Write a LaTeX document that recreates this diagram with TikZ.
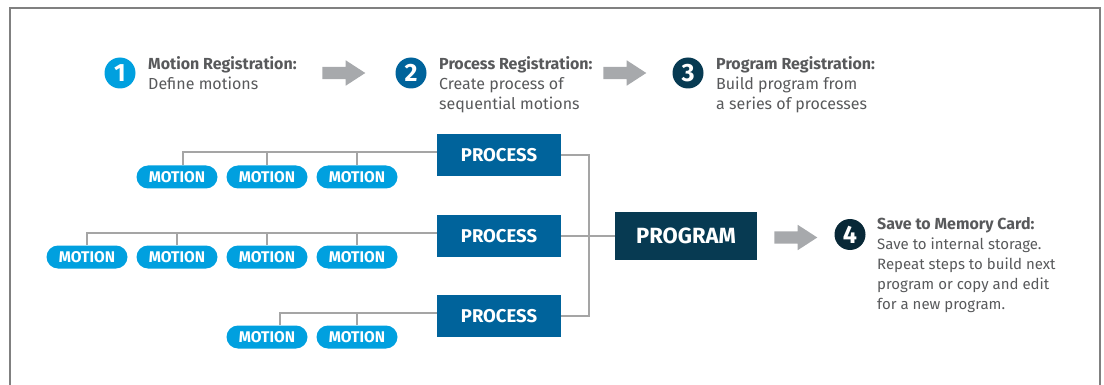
\documentclass[tikz,border=0pt]{standalone}
\usepackage{fontspec}
\setmainfont{Fira Sans}
\usepackage{tikz}
\usetikzlibrary{positioning}
\usetikzlibrary{shapes.arrows}
\definecolor{lightblue}{RGB}{0,160,223}
\definecolor{procblue}{RGB}{0,99,155}
\definecolor{progblue}{RGB}{7,58,82}
\definecolor{darkteal}{RGB}{8,40,55}
\definecolor{textgray}{RGB}{88,89,91}
\definecolor{arrowgray}{RGB}{167,169,172}
\definecolor{linegray}{RGB}{165,165,165}
\definecolor{framegray}{RGB}{128,128,128}
\tikzstyle{number}=[circle,draw=none,text=white,minimum size=31pt,inner sep=0pt,font=\fontsize{25}{25}\selectfont\bfseries]
\tikzstyle{steptext}=[anchor=north west,inner sep=0pt,align=left,text=textgray,font=\fontsize{16}{20}\selectfont]
\tikzstyle{smallsteptext}=[steptext,font=\fontsize{15}{20}\selectfont]
\tikzstyle{motion}=[rectangle,rounded corners=11.5pt,fill=lightblue,text=white,minimum width=81pt,minimum height=23pt,inner sep=0pt,font=\fontsize{15.5}{15.5}\selectfont\bfseries]
\tikzstyle{process}=[rectangle,fill=procblue,text=white,minimum width=124pt,minimum height=42pt,inner sep=0pt,font=\fontsize{18.5}{18.5}\selectfont\bfseries]
\tikzstyle{program}=[rectangle,fill=progblue,text=white,minimum width=142pt,minimum height=48pt,inner sep=0pt,font=\fontsize{22}{22}\selectfont\bfseries]
\tikzstyle{grayarrow}=[single arrow,fill=arrowgray,draw=none,minimum height=43pt,inner xsep=0pt,inner ysep=6pt,single arrow head extend=6.5pt,single arrow tip angle=66]
\tikzstyle{link}=[draw=linegray,line width=1.3pt]
\tikzstyle{frame}=[draw=framegray,line width=1.5pt]
\newcommand{\stephead}[1]{{\fontsize{16}{20}\selectfont\bfseries #1}}

\begin{document}
\begin{tikzpicture}[x=1pt,y=-1pt]

  \useasboundingbox (0,0) rectangle (1104,385);
  \draw[frame] (10,385) -- (10,8) -- (1100,8) -- (1100,385);

  % numbered steps
  \foreach \pos/\name/\col/\num in {{(120,73)/n1/lightblue/1}, {(411,73)/n2/procblue/2}, {(688,73)/n3/progblue/3}, {(850,234.5)/n4/darkteal/4}}
      \node[number,fill=\col] (\name) at \pos {\num};

  \node[steptext] (t1) at (148,56) {\stephead{Motion Registration:}\\Define motions};
  \node[steptext] (t2) at (439,56) {\stephead{Process Registration:}\\Create process of\\sequential motions};
  \node[steptext] (t3) at (716,56) {\stephead{Program Registration:}\\Build program from\\a series of processes};
  \node[smallsteptext] (t4) at (877,217) {\stephead{Save to Memory Card:}\\Save to internal storage.\\Repeat steps to build next\\program or copy and edit\\for a new program.};

  \node[grayarrow] (a1) at (339,73) {};
  \node[grayarrow] (a2) at (620,73) {};
  \node[grayarrow] (a3) at (791,237.5) {};

  % processes and program
  \foreach \pos/\name in {{(499,155)/p1}, {(499,236)/p2}, {(499,316)/p3}}
      \node[process] (\name) at \pos {PROCESS};
  \node[program] (prog) at (686,236) {PROGRAM};

  \foreach \pos/\name in {{(177,177)/m11}, {(267,177)/m12}, {(357,177)/m13},
                          {(87,257)/m21}, {(177,257)/m22}, {(267,257)/m23}, {(357,257)/m24},
                          {(267,337)/m31}, {(357,337)/m32}}
      \node[motion] (\name) at \pos {MOTION};

  \foreach \proc/\mot/\dx in {p1/m11/6, p1/m12/0, p1/m13/0, p2/m21/0, p2/m22/0, p2/m23/0, p2/m24/0, p3/m31/13, p3/m32/0}
      \draw[link] ([xshift=\dx pt]\mot.north) |- ([yshift=3pt]\proc.west);

  \coordinate (join) at (589,236);
  \draw[link] (p1.east) -| (join) |- (p3.east);
  \draw[link] (p2.east) -- (prog.west);

\end{tikzpicture}
\end{document}
